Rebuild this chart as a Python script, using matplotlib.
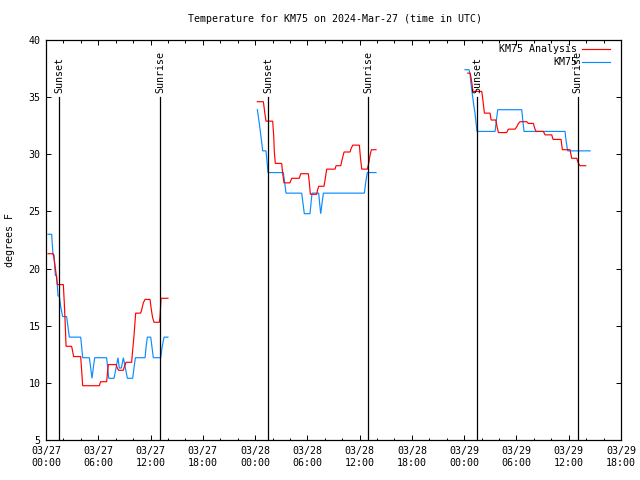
import matplotlib
matplotlib.use('Agg')
import matplotlib.pyplot as plt
import numpy as np

# ---------------- data (hours since 2024-03-27 00:00 UTC, deg F) ----------------
seg1_obs_t = [0.23, 0.65, 0.80, 0.92, 1.07, 1.22, 1.38, 1.53, 1.68, 1.91, 2.37, 2.52, 2.68, 3.98, 4.10, 4.21,
              4.98, 5.13, 5.28, 5.43, 5.59, 6.96, 7.08, 7.20, 7.81, 8.04, 8.26, 8.42, 8.65, 8.88, 9.11, 9.34,
              9.95, 10.10, 10.26, 11.37, 11.48, 11.63, 12.02, 12.17, 12.32, 13.17, 13.32, 13.55, 14.0]
seg1_obs_v = [23.0, 23.0, 21.2, 21.2, 19.4, 19.4, 17.6, 17.6, 16.7, 15.8, 15.8, 14.9, 14.0, 14.0, 13.1, 12.2,
              12.2, 11.3, 10.4, 11.3, 12.2, 12.2, 11.3, 10.4, 10.4, 11.3, 12.2, 11.3, 11.3, 12.2, 11.3, 10.4,
              10.4, 11.3, 12.2, 12.2, 13.1, 14.0, 14.0, 13.1, 12.2, 12.2, 13.1, 14.0, 14.0]
seg1_ana_t = [0.23, 0.84, 0.99, 1.15, 1.30, 1.99, 2.10, 2.22, 2.30, 2.94, 3.06, 3.17, 3.98, 4.10, 4.21, 6.12,
              6.27, 6.96, 7.15, 8.04, 8.19, 8.34, 8.88, 8.99, 9.18, 9.83, 9.95, 10.10, 10.29, 10.87, 10.98,
              11.17, 11.37, 11.94, 12.09, 12.24, 12.40, 13.01, 13.09, 13.20, 14.0]
seg1_ana_v = [21.3, 21.3, 20.5, 19.6, 18.6, 18.6, 17.0, 14.9, 13.2, 13.2, 12.75, 12.3, 12.3, 11.0, 9.75, 9.75,
              10.1, 10.1, 11.6, 11.6, 11.3, 11.1, 11.1, 11.4, 11.8, 11.8, 12.9, 14.1, 16.1, 16.1, 16.4,
              17.0, 17.3, 17.3, 16.4, 15.7, 15.3, 15.3, 15.8, 17.4, 17.4]

seg2_obs_t = [24.26, 24.45, 24.60, 24.75, 24.87, 25.25, 25.37, 25.48, 27.24, 27.40, 27.55, 29.35, 29.50, 29.65,
              30.30, 30.42, 30.53, 31.30, 31.41, 31.53, 31.68, 31.84, 36.54, 36.69, 36.88, 37.88]
seg2_obs_v = [33.9, 32.9, 32.0, 31.1, 30.3, 30.3, 29.4, 28.4, 28.4, 27.5, 26.6, 26.6, 25.7, 24.8,
              24.8, 25.7, 26.6, 26.6, 25.7, 24.8, 25.7, 26.6, 26.6, 27.5, 28.4, 28.4]
seg2_ana_t = [24.26, 24.95, 25.10, 25.25, 26.02, 26.13, 26.21, 26.32, 27.05, 27.17, 27.32, 28.00, 28.20, 29.08,
              29.23, 30.11, 30.23, 30.34, 31.07, 31.18, 31.30, 31.91, 32.06, 32.22, 33.18, 33.29, 33.83,
              33.98, 34.21, 34.90, 35.02, 35.21, 35.97, 36.08, 36.24, 36.88, 37.04, 37.19, 37.35, 37.88]
seg2_ana_v = [34.6, 34.6, 33.7, 32.9, 32.9, 31.7, 30.2, 29.2, 29.2, 28.3, 27.5, 27.5, 27.9, 27.9,
              28.3, 28.3, 27.5, 26.5, 26.5, 26.9, 27.2, 27.2, 27.9, 28.7, 28.7, 29.0, 29.0,
              29.5, 30.2, 30.2, 30.5, 30.8, 30.8, 29.8, 28.7, 28.7, 29.2, 29.9, 30.4, 30.4]

seg3_obs_t = [48.09, 48.55, 48.66, 48.78, 48.93, 49.08, 49.24, 49.35, 49.47, 51.55, 51.70, 51.85, 54.61,
              54.72, 54.87, 59.58, 59.69, 59.88, 62.45]
seg3_obs_v = [37.4, 37.4, 37.1, 36.2, 35.3, 34.4, 33.6, 32.85, 32.0, 32.0, 33.0, 33.9, 33.9,
              33.0, 32.0, 32.0, 31.2, 30.3, 30.3]
seg3_ana_t = [48.41, 48.68, 48.79, 48.91, 48.99, 50.02, 50.17, 50.32, 50.97, 51.09, 51.63, 51.78, 51.93,
              52.88, 53.07, 53.84, 54.03, 54.23, 54.42, 55.18, 55.37, 55.94, 56.13, 56.25, 57.09, 57.28,
              58.05, 58.20, 59.12, 59.27, 60.15, 60.34, 60.92, 61.11, 61.30, 61.95]
seg3_ana_v = [37.1, 37.1, 36.7, 36.1, 35.5, 35.5, 34.6, 33.6, 33.6, 33.0, 33.0, 32.4, 31.9,
              31.9, 32.2, 32.2, 32.4, 32.7, 32.85, 32.85, 32.7, 32.7, 32.2, 32.0, 32.0, 31.7,
              31.7, 31.3, 31.3, 30.4, 30.4, 29.65, 29.65, 29.2, 29.0, 29.0]

sunset_times = [1.53, 25.51, 49.52]
sunrise_times = [13.13, 37.0, 61.04]

xtick_pos = [0, 6, 12, 18, 24, 30, 36, 42, 48, 54, 60, 66]
xtick_labels = ['03/27\n00:00', '03/27\n06:00', '03/27\n12:00', '03/27\n18:00',
                '03/28\n00:00', '03/28\n06:00', '03/28\n12:00', '03/28\n18:00',
                '03/29\n00:00', '03/29\n06:00', '03/29\n12:00', '03/29\n18:00']
ytick_pos = [5, 10, 15, 20, 25, 30, 35, 40]

title = 'Temperature for KM75 on 2024-Mar-27 (time in UTC)'
label_ana = 'KM75 Analysis'
label_obs = 'KM75'

# ---------------- styling ----------------
plt.rcParams['font.family'] = ['DejaVu Sans Mono', 'DejaVu Sans']
FS = 7.2
RED = '#ff0000'
BLUE = '#0a8cff'
LW = 0.85

fig = plt.figure(figsize=(6.4, 4.8), dpi=100)
ax = fig.add_axes([46/640, 40/480, 575/640, 400/480])

for t, v in [(seg1_ana_t, seg1_ana_v), (seg2_ana_t, seg2_ana_v), (seg3_ana_t, seg3_ana_v)]:
    ax.plot(t, v, color=RED, lw=LW, solid_joinstyle='miter', zorder=3)
for t, v in [(seg1_obs_t, seg1_obs_v), (seg2_obs_t, seg2_obs_v), (seg3_obs_t, seg3_obs_v)]:
    ax.plot(t, v, color=BLUE, lw=LW, solid_joinstyle='miter', zorder=2)

for t in sunset_times:
    ax.plot([t, t], [5, 35], color='black', lw=0.9, zorder=4)
    ax.text(t, 35.4, 'Sunset', rotation=90, ha='center', va='bottom', fontsize=FS)
for t in sunrise_times:
    ax.plot([t, t], [5, 35], color='black', lw=0.9, zorder=4)
    ax.text(t, 35.4, 'Sunrise', rotation=90, ha='center', va='bottom', fontsize=FS)

ax.set_xlim(0, 66)
ax.set_ylim(5, 40)
ax.set_xticks(xtick_pos)
ax.set_xticklabels(xtick_labels, fontsize=FS, linespacing=1.25)
ax.set_xticks(np.arange(0, 67, 2), minor=True)
ax.set_yticks(ytick_pos)
ax.set_yticklabels([str(v) for v in ytick_pos], fontsize=FS)
ax.tick_params(which='major', direction='in', length=3.6, width=0.7, top=True, right=True, pad=4)
ax.tick_params(which='minor', direction='in', length=1.8, width=0.7, top=True, right=False, left=False)
for s in ax.spines.values():
    s.set_linewidth(0.9)

# gnuplot-style key (text right-aligned, sample on the right)
ax.text(0.9235, 0.9775, label_ana, transform=ax.transAxes, ha='right', va='center', fontsize=FS)
ax.plot([0.932, 0.981], [0.9775, 0.9775], transform=ax.transAxes, color=RED, lw=LW)
ax.text(0.9235, 0.945, label_obs, transform=ax.transAxes, ha='right', va='center', fontsize=FS)
ax.plot([0.932, 0.981], [0.945, 0.945], transform=ax.transAxes, color=BLUE, lw=LW)

fig.text(335/640, 1 - 19/480, title, ha='center', va='center', fontsize=FS)
fig.text(10/640, 240/480, 'degrees F', rotation=90, ha='center', va='center', fontsize=FS)

fig.savefig('out.png', dpi=100)
